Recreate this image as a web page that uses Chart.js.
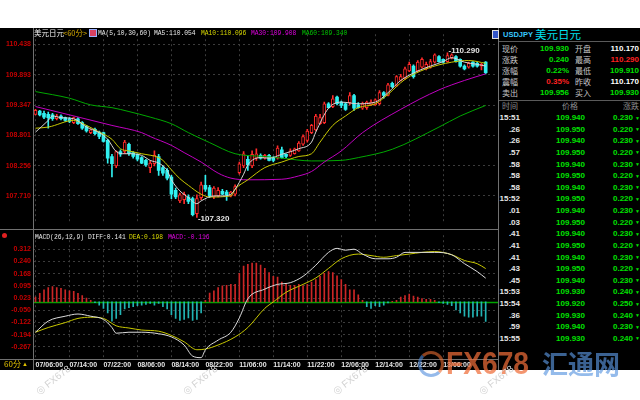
<!DOCTYPE html>
<html><head><meta charset="utf-8">
<script src="https://cdn.jsdelivr.net/npm/chart.js@4.4.1/dist/chart.umd.min.js"></script>
<style>
html,body{margin:0;padding:0;}
body{width:640px;height:400px;overflow:hidden;position:relative;background:#fff;font-family:"Liberation Sans",Arial,sans-serif;}
#bg{position:absolute;left:0;top:28px;width:640px;height:342px;background:#000;}
canvas{position:absolute;left:0;}
#main{top:28px;}
#macd{top:229px;}
.t{position:absolute;white-space:nowrap;}
.m{font-family:"Liberation Mono","DejaVu Sans Mono",monospace;transform:scaleX(0.9);transform-origin:0 50%;}
.cjk{font-family:"Noto Sans CJK SC",sans-serif;}
.wm{position:absolute;color:#d2d2d2;font-size:10px;white-space:nowrap;transform:rotate(-38deg);transform-origin:0 100%;}
</style></head><body>
<div id="bg"></div>
<canvas id="main" width="498" height="201"></canvas>
<canvas id="macd" width="498" height="141"></canvas>
<script>
// ---------- data ----------
const tickIdx = [0,8,16,24,32,40,48,56,64,72,80,88,96];
const tickLabels = ['07/06:00','07/14:00','07/22:00','08/06:00','08/14:00','08/22:00','11/06:00','11/14:00','11/22:00','12/06:00','12/14:00','12/22:00','13/06:00'];
const priceTicks = [110.438,109.893,109.347,108.801,108.256,107.710];
const macdTicks = [0.312,0.240,0.168,0.095,0.023,-0.050,-0.122,-0.194,-0.267];

const open = [109.18,109.24,109.20,109.18,109.17,109.10,109.15,109.12,109.10,109.03,
109.10,109.03,108.96,108.85,108.91,108.86,108.85,108.71,108.42,108.25,
108.51,108.51,108.64,108.49,108.46,108.40,108.35,108.22,108.29,108.42,
108.22,108.17,108.05,107.81,107.62,107.64,107.69,107.66,107.39,107.68,
107.90,107.86,107.69,107.71,107.79,107.78,107.71,107.74,108.13,108.25,
108.37,108.25,108.39,108.44,108.39,108.44,108.40,108.39,108.54,108.46,
108.44,108.47,108.52,108.64,108.71,108.85,108.90,109.01,109.03,109.37,
109.32,109.49,109.40,109.37,109.39,109.52,109.35,109.29,109.30,109.35,
109.35,109.37,109.57,109.52,109.74,109.69,109.79,109.83,109.96,110.05,
109.96,110.03,110.00,110.03,110.12,110.22,110.17,110.13,110.20,110.22,
110.17,110.05,110.03,110.12,110.10,110.05,110.12];
const high = [109.27,109.25,109.24,109.22,109.20,109.18,109.17,109.13,109.12,109.13,
109.12,109.05,108.98,108.91,108.93,108.88,108.86,108.73,108.46,108.52,
108.54,108.71,108.66,108.51,108.47,108.42,108.37,108.34,108.52,108.46,
108.25,108.20,108.08,107.85,107.76,107.78,107.73,107.69,107.73,107.96,
108.08,107.90,107.88,107.86,107.83,107.81,107.79,107.91,108.32,108.51,
108.44,108.52,108.56,108.47,108.46,108.46,108.42,108.61,108.59,108.47,
108.56,108.57,108.69,108.81,108.91,109.00,109.18,109.18,109.40,109.39,
109.52,109.51,109.42,109.39,109.57,109.54,109.39,109.40,109.42,109.44,
109.46,109.61,109.59,109.74,109.76,109.88,109.90,110.03,110.12,110.07,
110.15,110.20,110.12,110.17,110.27,110.24,110.18,110.29,110.27,110.24,
110.18,110.07,110.12,110.13,110.12,110.10,110.13];
const low = [109.17,109.15,109.10,108.93,109.07,109.08,109.08,109.05,109.03,109.01,
109.00,108.91,108.86,108.83,108.81,108.74,108.68,108.30,108.05,108.22,
108.42,108.47,108.44,108.39,108.34,108.29,108.24,108.13,108.25,108.08,
108.08,108.00,107.66,107.66,107.59,107.57,107.57,107.35,107.32,107.64,
107.79,107.68,107.66,107.69,107.73,107.63,107.69,107.71,108.10,108.22,
108.17,108.22,108.35,108.37,108.37,108.34,108.32,108.37,108.39,108.40,
108.42,108.46,108.51,108.62,108.68,108.83,108.88,109.00,109.01,109.29,
109.30,109.35,109.30,109.25,109.35,109.25,109.29,109.27,109.27,109.34,
109.34,109.35,109.47,109.51,109.66,109.68,109.78,109.81,109.95,109.83,
109.95,110.01,109.98,110.01,110.10,110.12,110.10,110.12,110.18,110.12,
110.03,109.98,110.01,110.03,110.03,109.98,109.91];
const close = [109.25,109.17,109.13,109.12,109.10,109.15,109.10,109.07,109.05,109.12,
109.01,108.93,108.88,108.90,108.83,108.78,108.69,108.39,108.29,108.51,
108.46,108.68,108.47,108.42,108.37,108.30,108.27,108.30,108.44,108.17,
108.12,108.03,107.74,107.69,107.73,107.74,107.61,107.37,107.66,107.91,
107.83,107.71,107.85,107.81,107.74,107.73,107.78,107.88,108.29,108.47,
108.27,108.46,108.47,108.39,108.44,108.35,108.35,108.57,108.40,108.42,
108.52,108.56,108.66,108.78,108.88,108.98,109.15,109.12,109.37,109.30,
109.46,109.37,109.34,109.27,109.52,109.29,109.30,109.37,109.40,109.40,
109.44,109.57,109.52,109.71,109.68,109.86,109.86,110.00,110.08,109.86,
110.12,110.17,110.08,110.13,110.25,110.13,110.12,110.24,110.25,110.13,
110.05,110.00,110.10,110.05,110.05,110.08,109.93];

const ma5Idx = [0,3,4,6,9,12,15,17,19,21,22,25,27,29,31,32,34,36,38,39,42,44,46,47,49,50,53,55,58,62,65,66,69,72,76,80,83,86,90,93,96,98,101,104,106];
const ma5Val = [108.86,109.07,109.15,109.12,109.10,108.95,108.85,108.73,108.51,108.47,108.47,108.44,108.35,108.30,108.17,108.00,107.80,107.68,107.57,107.62,107.71,107.71,107.74,107.83,108.10,108.27,108.40,108.39,108.46,108.56,108.68,108.86,109.29,109.40,109.37,109.40,109.57,109.79,109.96,110.05,110.13,110.20,110.12,110.08,110.05];
const ma10Idx = [0,3,9,12,15,18,20,22,25,29,30,32,34,36,39,41,46,47,50,54,58,62,65,67,70,73,76,80,83,87,92,98,102,106];
const ma10Val = [108.93,108.95,109.07,108.98,108.86,108.73,108.56,108.52,108.47,108.40,108.35,108.18,108.02,107.90,107.74,107.69,107.71,107.83,108.00,108.22,108.32,108.42,108.47,108.68,108.98,109.15,109.30,109.37,109.54,109.81,110.00,110.12,110.15,110.10];
const ma30Idx = [0,8,18,25,27,32,35,39,43,46,50,58,62,65,68,72,77,86,95,101,106];
const ma30Val = [109.32,109.17,108.98,108.85,108.78,108.62,108.49,108.32,108.12,108.03,108.00,108.01,108.07,108.15,108.32,108.52,108.85,109.27,109.62,109.79,109.91];
const ma60Idx = [0,8,13,18,22,27,32,36,41,47,54,58,65,72,76,84,95,100,106];
const ma60Val = [109.59,109.47,109.35,109.30,109.23,109.13,109.01,108.85,108.67,108.47,108.42,108.39,108.34,108.35,108.40,108.55,108.95,109.15,109.34];

const macdHist = [0.028,0.051,0.072,0.085,0.091,0.085,0.080,0.072,0.066,0.063,
0.051,0.038,0.023,0.009,-0.004,-0.019,-0.038,-0.066,-0.114,-0.098,
-0.076,-0.042,-0.034,-0.028,-0.023,-0.019,-0.015,-0.009,-0.019,-0.009,
-0.028,-0.042,-0.076,-0.098,-0.110,-0.104,-0.095,-0.110,-0.104,-0.066,
0.010,0.053,0.066,0.085,0.095,0.098,0.104,0.104,0.170,0.212,
0.223,0.231,0.231,0.218,0.199,0.174,0.152,0.148,0.117,0.104,
0.098,0.098,0.104,0.095,0.104,0.117,0.133,0.152,0.170,0.180,
0.174,0.155,0.133,0.104,0.072,0.072,0.042,0.009,-0.028,-0.038,
-0.023,-0.028,-0.019,-0.006,0.004,0.009,0.028,0.038,0.047,0.034,
0.028,0.019,0.015,0.015,0.009,-0.004,-0.009,-0.015,-0.023,-0.047,
-0.066,-0.085,-0.091,-0.091,-0.085,-0.085,-0.116];
const diffIdx = [0,3,7,10,13,16,18,19,22,25,29,32,35,37,39,40,43,46,48,50,54,57,60,63,66,69,71,73,75,77,80,83,85,87,91,94,98,101,104,106];
const diffVal = [-0.180,-0.114,-0.085,-0.072,-0.085,-0.104,-0.152,-0.186,-0.180,-0.180,-0.189,-0.208,-0.256,-0.322,-0.331,-0.284,-0.227,-0.180,-0.095,0.019,0.076,0.104,0.114,0.152,0.218,0.294,0.318,0.307,0.313,0.284,0.256,0.256,0.265,0.294,0.294,0.294,0.280,0.227,0.180,0.141];
const deaIdx = [0,3,7,10,13,16,19,22,25,29,32,35,38,40,43,47,50,54,56,59,63,66,69,72,76,79,82,85,88,91,94,98,101,104,106];
const deaVal = [-0.180,-0.152,-0.123,-0.098,-0.091,-0.098,-0.142,-0.155,-0.167,-0.174,-0.199,-0.237,-0.284,-0.280,-0.256,-0.208,-0.152,-0.038,0.000,0.057,0.104,0.142,0.199,0.256,0.284,0.275,0.265,0.275,0.284,0.294,0.299,0.280,0.246,0.227,0.198];

// quote panel
const quoteL = ['现价','涨跌','涨幅','震幅','卖出'];
const quoteLV = ['109.930','0.240','0.22%','0.35%','109.956'];
const quoteLC = ['g','g','g','r','g'];
const quoteR = ['开盘','最高','最低','昨收','买入'];
const quoteRV = ['110.170','110.290','109.910','110.170','109.930'];
const quoteRC = ['w','r','g','w','g'];
const tradeTime = ['15:51','.26','.26','.57','.58','.58','.58','15:52','.01','.03','.41','.41','.41','.43','.45','15:53','15:54','.36','.59','15:55'];
const tradePrice = ['109.940','109.950','109.940','109.950','109.940','109.950','109.940','109.950','109.940','109.950','109.940','109.950','109.940','109.950','109.940','109.930','109.920','109.930','109.940','109.930'];
const tradeChg = ['0.230','0.220','0.230','0.220','0.230','0.220','0.230','0.220','0.230','0.220','0.230','0.220','0.230','0.220','0.230','0.240','0.250','0.240','0.230','0.240'];

// ---------- chart ----------
const X_MIN = -0.59, X_MAX = 108.9;
const RED = '#ff2a2a', CYAN = '#30f0f0';
const idx = open.map((_, i) => i);
const isUp = i => i !== undefined && close[i] >= open[i];
const pts = (xs, ys) => xs.map((x, k) => ({x, y: ys[k]}));
const GRID = '#3c3c3c';

function xAxis(show){
  return {
    type:'linear', min:X_MIN, max:X_MAX, offset:false, bounds:'data',
    afterBuildTicks: s => { s.ticks = tickIdx.map(v => ({value:v})); },
    grid:{color:GRID, drawTicks:false, offset:false},
    border:{display:false, dash:[2,3]},
    ticks:{display:show, autoSkip:false, maxRotation:0, align:'start', padding:2, color:'#e6e6e6',
      font:{family:'Liberation Sans', size:7, weight:'bold'},
      callback: v => tickLabels[tickIdx.indexOf(v)] || ''},
    afterFit: s => { s.height = show ? 11 : 0; }
  };
}
function yAxis(min, max, ticks){
  return {
    position:'left', min, max, bounds:'data',
    afterBuildTicks: s => { s.ticks = ticks.map(v => ({value:v})); },
    grid:{color:GRID, drawTicks:false},
    border:{display:false, dash:[2,3]},
    ticks:{color:'#c40000', padding:2, font:{family:'Liberation Sans', size:7, weight:'bold'},
      callback: v => Number(v).toFixed(3)},
    afterFit: s => { s.width = 33; }
  };
}
const line = (label, data, color) => ({type:'line', label, data, borderColor:color, borderWidth:1,
  pointRadius:0, fill:false, cubicInterpolationMode:'monotone', order:0});

const extremes = {id:'extremes', afterDatasetsDraw(chart){
  const {ctx, scales:{x, y}} = chart;
  const hi = Math.max(...high), hiI = high.indexOf(hi);
  const lo = Math.min(...low), loI = low.indexOf(lo);
  ctx.save();
  ctx.font = 'bold 8px "Liberation Sans"'; ctx.fillStyle = '#e4e4e4';
  ctx.textBaseline = 'middle'; ctx.textAlign = 'left';
  ctx.fillText('-' + hi.toFixed(3), x.getPixelForValue(hiI) + 1, y.getPixelForValue(hi) - 2);
  ctx.fillText('-' + lo.toFixed(3), x.getPixelForValue(loI) + 1, y.getPixelForValue(lo) + 1);
  ctx.restore();
}};
const zeroLine = {id:'zeroLine', beforeDatasetsDraw(chart){
  const {ctx, chartArea:a, scales:{y}} = chart;
  const py = Math.round(y.getPixelForValue(0)) + 0.5;
  ctx.save(); ctx.strokeStyle = '#00a400'; ctx.lineWidth = 1.5;
  ctx.beginPath(); ctx.moveTo(a.left, py); ctx.lineTo(a.right, py); ctx.stroke(); ctx.restore();
}};

const common = {responsive:false, animation:false, devicePixelRatio:1,
  plugins:{legend:{display:false}, tooltip:{enabled:false}}};

new Chart(document.getElementById('main'), {
  type:'bar',
  data:{datasets:[
    line('MA5', pts(ma5Idx, ma5Val), '#d6d6d6'),
    line('MA10', pts(ma10Idx, ma10Val), '#c8c800'),
    line('MA30', pts(ma30Idx, ma30Val), '#c000c0'),
    line('MA60', pts(ma60Idx, ma60Val), '#00a800'),
    {type:'bar', label:'body', data: idx.map(i => ({x:i, y:[open[i], close[i]]})),
      backgroundColor: c => isUp(c.dataIndex) ? '#000' : CYAN,
      borderColor: c => isUp(c.dataIndex) ? RED : CYAN,
      borderWidth: c => isUp(c.dataIndex) ? 1 : 0,
      borderSkipped:false, barThickness:3, minBarLength:1, grouped:false, order:1},
    {type:'bar', label:'wick', data: idx.map(i => ({x:i, y:[low[i], high[i]]})),
      backgroundColor: c => isUp(c.dataIndex) ? RED : CYAN,
      borderWidth:0, barThickness:1, grouped:false, order:2}
  ]},
  options:Object.assign({}, common, {layout:{padding:0},
    scales:{x:xAxis(false), y:yAxis(107.225, 110.624, priceTicks)}}),
  plugins:[extremes]
});

new Chart(document.getElementById('macd'), {
  type:'bar',
  data:{datasets:[
    line('DIFF', pts(diffIdx, diffVal), '#dcdcdc'),
    line('DEA', pts(deaIdx, deaVal), '#c8c800'),
    {type:'bar', label:'MACD', data: idx.map(i => ({x:i, y:macdHist[i]})),
      backgroundColor: c => (macdHist[c.dataIndex] >= 0 ? '#cc2626' : '#22b4b4'),
      borderWidth:0, barThickness:1, grouped:false, order:1}
  ]},
  options:Object.assign({}, common, {layout:{padding:{top:1, left:0, right:0, bottom:0}},
    scales:{x:xAxis(true), y:yAxis(-0.339, 0.396, macdTicks)}}),
  plugins:[zeroLine]
});

// ---------- overlay text ----------
const COL = {g:'#00e000', r:'#ff2020', w:'#ffffff'};
function txt(o){
  const d = document.createElement('div');
  d.className = 't ' + (o.cls || '');
  d.textContent = o.text;
  const lh = o.size + 4;
  d.style.color = o.color; d.style.fontSize = o.size + 'px'; d.style.lineHeight = lh + 'px';
  d.style.top = (o.y - lh / 2) + 'px';
  if (o.right !== undefined) { d.style.right = (640 - o.right) + 'px'; d.style.textAlign = 'right'; }
  else d.style.left = o.x + 'px';
  if (o.weight) d.style.fontWeight = o.weight;
  document.body.appendChild(d);
  return d;
}
function box(x, y, w, h, style){
  const d = document.createElement('div');
  d.style.cssText = `position:absolute;left:${x}px;top:${y}px;width:${w}px;height:${h}px;` + (style || '');
  document.body.appendChild(d);
  return d;
}
// separators
box(33, 28, 1, 342, 'background:#707070');
box(498, 28, 1, 342, 'background:#707070');
box(0, 229, 498, 1, 'background:#707070');
box(0, 359, 498, 1, 'background:#707070');
box(499, 41, 141, 1, 'background:#5a5a5a');
box(499, 100, 141, 1, 'background:#5a5a5a');

// main header
txt({x:34, y:33, text:'美元日元', color:'#f0f0f0', size:7.5, cls:'cjk'});
txt({x:63, y:33, text:'<60分>', color:'#d6aa00', size:7.5, cls:'cjk'});
box(89, 29, 6, 6, 'background:#d84060;border:1px solid #9ab0ff');
txt({x:98, y:33, text:'MA(5,10,30,60)', color:'#e8e8e8', size:7, cls:'m'});
txt({x:154, y:33, text:'MA5:110.054', color:'#e8e8e8', size:7, cls:'m'});
txt({x:201, y:33, text:'MA10:110.096', color:'#d8d800', size:7, cls:'m'});
txt({x:251, y:33, text:'MA30:109.908', color:'#e000e0', size:7, cls:'m'});
txt({x:302, y:33, text:'MA60:109.340', color:'#00c800', size:7, cls:'m'});
// macd header
txt({x:35, y:237, text:'MACD(26,12,9) DIFF:0.141', color:'#e8e8e8', size:7, cls:'m'});
txt({x:129, y:237, text:'DEA:0.198', color:'#d8d800', size:7, cls:'m'});
txt({x:168, y:237, text:'MACD:-0.116', color:'#e000e0', size:7, cls:'m'});
box(2, 233, 5, 5, 'background:#e02020;border-radius:50%');
// bottom-left period
txt({x:4, y:364, text:'60分', color:'#e0c000', size:8, cls:'cjk'});
txt({x:22, y:364, text:'▲', color:'#e0c000', size:6});

// right panel
box(492, 30, 5, 7, 'background:#3456c8;border:1px solid #e0e0e0');
txt({x:503, y:35, text:'USDJPY', color:'#38c8ff', size:7.5, weight:'bold'});
txt({x:535, y:35, text:'美元日元', color:'#00e0f0', size:11.5, cls:'cjk'});
quoteL.forEach((lab, k) => {
  const y = 49 + k * 11;
  txt({x:502, y, text:lab, color:'#c8c8c8', size:8, cls:'cjk'});
  txt({right:569, y, text:quoteLV[k], color:COL[quoteLC[k]], size:8, weight:'bold'});
  txt({x:575, y, text:quoteR[k], color:'#c8c8c8', size:8, cls:'cjk'});
  txt({right:639, y, text:quoteRV[k], color:COL[quoteRC[k]], size:8, weight:'bold'});
});
txt({x:502, y:106, text:'时间', color:'#8c8c8c', size:8, cls:'cjk'});
txt({x:562, y:106, text:'价格', color:'#8c8c8c', size:8, cls:'cjk'});
txt({x:623, y:106, text:'涨跌', color:'#8c8c8c', size:8, cls:'cjk'});
tradeTime.forEach((t, k) => {
  const y = 118 + k * 11.63;
  txt({right:520, y, text:t, color:'#e6e6e6', size:8, weight:'bold'});
  txt({right:585, y, text:tradePrice[k], color:'#00e000', size:8, weight:'bold'});
  txt({right:633, y, text:tradeChg[k], color:'#00e000', size:8, weight:'bold'});
  txt({right:640, y, text:'▼', color:'#00e000', size:5});
});

// watermark
box(418, 351, 20, 20, 'border-radius:50%;border:3px solid rgba(235,110,50,0.6);border-left-color:rgba(80,140,220,0.6);border-bottom-color:rgba(80,140,220,0.6)');
const fx = txt({x:446, y:363, text:'FX678', color:'rgba(238,108,55,0.72)', size:32, weight:'bold'});
fx.style.transform = 'scaleX(0.88)'; fx.style.transformOrigin = '0 50%';
txt({x:542, y:363, text:'汇通网', color:'rgba(90,150,225,0.65)', size:26, cls:'cjk', weight:'bold'});
[40, 187, 337, 483].forEach(x => {
  const d = document.createElement('div');
  d.className = 'wm'; d.textContent = '◎ FX678';
  d.style.left = x + 'px'; d.style.top = '386px';
  document.body.appendChild(d);
});
</script>
</body></html>
